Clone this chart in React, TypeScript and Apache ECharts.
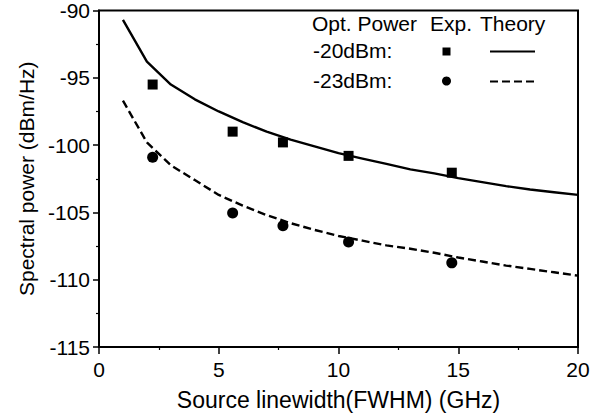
import React, { useEffect, useRef } from "react";
import * as echarts from "echarts";

const expX = [2.24, 5.58, 7.68, 10.42, 14.73];
const exp20 = [-95.5, -99.0, -99.8, -100.8, -102.05];
const exp23 = [-100.9, -105.05, -106.0, -107.2, -108.75];

const theoryX = [1, 2, 3, 4, 5, 6, 7, 8, 9, 10, 11, 12, 13, 14, 15, 16, 17, 18, 19, 20];
const theory20 = [-90.7, -93.8, -95.5, -96.6, -97.5, -98.3, -99.0, -99.6, -100.1, -100.6, -101.0, -101.4, -101.8, -102.1, -102.45, -102.75, -103.05, -103.3, -103.5, -103.7];
const theory23 = [-96.7, -99.8, -101.5, -102.6, -103.7, -104.5, -105.2, -105.8, -106.3, -106.75, -107.1, -107.45, -107.7, -108.0, -108.35, -108.65, -108.95, -109.2, -109.45, -109.7];

const legendHeader = ["Opt. Power", "Exp.", "Theory"];
const legendRows = ["-20dBm:", "-23dBm:"];

const FONT = "'Liberation Sans', Arial, Helvetica, sans-serif";

export default function App() {
  const ref = useRef<HTMLDivElement>(null);
  useEffect(() => {
    if (!ref.current) return;
    const chart = echarts.init(ref.current, null, { renderer: "svg" });
    const zip = (xs: number[], ys: number[]) => xs.map((x, i) => [x, ys[i]]);
    const txt = (s: string, left: number, top: number) => ({
      type: "text",
      left,
      top,
      style: { text: s, fontSize: 21, fill: "#000", fontFamily: FONT },
    });
    chart.setOption({
      animation: false,
      backgroundColor: "#fff",
      textStyle: { fontFamily: FONT, color: "#000" },
      grid: {
        left: 99,
        right: 17,
        top: 10,
        bottom: 70,
        show: true,
        borderColor: "#000",
        borderWidth: 2,
        backgroundColor: "transparent",
      },
      xAxis: {
        type: "value",
        min: 0,
        max: 20,
        interval: 5,
        name: "Source linewidth(FWHM) (GHz)",
        nameLocation: "middle",
        nameGap: 41,
        nameTextStyle: { fontSize: 23, color: "#000", fontFamily: FONT },
        axisLine: { show: true, onZero: false, lineStyle: { color: "#000", width: 2 } },
        axisTick: { show: true, length: 7, inside: false, lineStyle: { color: "#000", width: 1.5 } },
        minorTick: { show: true, splitNumber: 2, length: 3, lineStyle: { color: "#000", width: 1.2 } },
        axisLabel: { fontSize: 21, color: "#000", margin: 12, fontFamily: FONT },
        splitLine: { show: false },
      },
      yAxis: {
        type: "value",
        min: -115,
        max: -90,
        interval: 5,
        name: "Spectral power (dBm/Hz)",
        nameLocation: "middle",
        nameRotate: 90,
        nameGap: 62,
        nameTextStyle: { fontSize: 21, color: "#000", fontFamily: FONT },
        axisLine: { show: true, onZero: false, lineStyle: { color: "#000", width: 2 } },
        axisTick: { show: true, length: 6, inside: false, lineStyle: { color: "#000", width: 1.5 } },
        minorTick: { show: true, splitNumber: 2, length: 3, lineStyle: { color: "#000", width: 1.2 } },
        axisLabel: { fontSize: 21, color: "#000", margin: 9, fontFamily: FONT },
        splitLine: { show: false },
      },
      series: [
        {
          name: "Theory -20dBm",
          type: "line",
          data: zip(theoryX, theory20),
          showSymbol: false,
          lineStyle: { color: "#000", width: 2.4 },
        },
        {
          name: "Theory -23dBm",
          type: "line",
          data: zip(theoryX, theory23),
          showSymbol: false,
          lineStyle: { color: "#000", width: 2.4, type: [8, 4] },
        },
        {
          name: "Exp -20dBm",
          type: "scatter",
          data: zip(expX, exp20),
          symbol: "rect",
          symbolSize: 10,
          itemStyle: { color: "#000", opacity: 1 },
        },
        {
          name: "Exp -23dBm",
          type: "scatter",
          data: zip(expX, exp23),
          symbol: "circle",
          symbolSize: 11,
          itemStyle: { color: "#000", opacity: 1 },
        },
      ],
      graphic: [
        txt(legendHeader[0], 312, 13),
        txt(legendHeader[1], 430, 13),
        txt(legendHeader[2], 480, 13),
        txt(legendRows[0], 313, 40),
        txt(legendRows[1], 313, 70),
        {
          type: "rect",
          shape: { x: 442.5, y: 47.5, width: 8, height: 8 },
          style: { fill: "#000" },
        },
        {
          type: "circle",
          shape: { cx: 446.5, cy: 81, r: 4.5 },
          style: { fill: "#000" },
        },
        {
          type: "line",
          shape: { x1: 490, y1: 51.5, x2: 535, y2: 51.5 },
          style: { stroke: "#000", lineWidth: 2.2 },
        },
        {
          type: "line",
          shape: { x1: 490, y1: 81.5, x2: 535, y2: 81.5 },
          style: { stroke: "#000", lineWidth: 2.2, lineDash: [8, 4] },
        },
      ],
    });
    return () => chart.dispose();
  }, []);
  return <div ref={ref} style={{ width: 595, height: 417, position: "fixed", left: 0, top: 0 }} />;
}
